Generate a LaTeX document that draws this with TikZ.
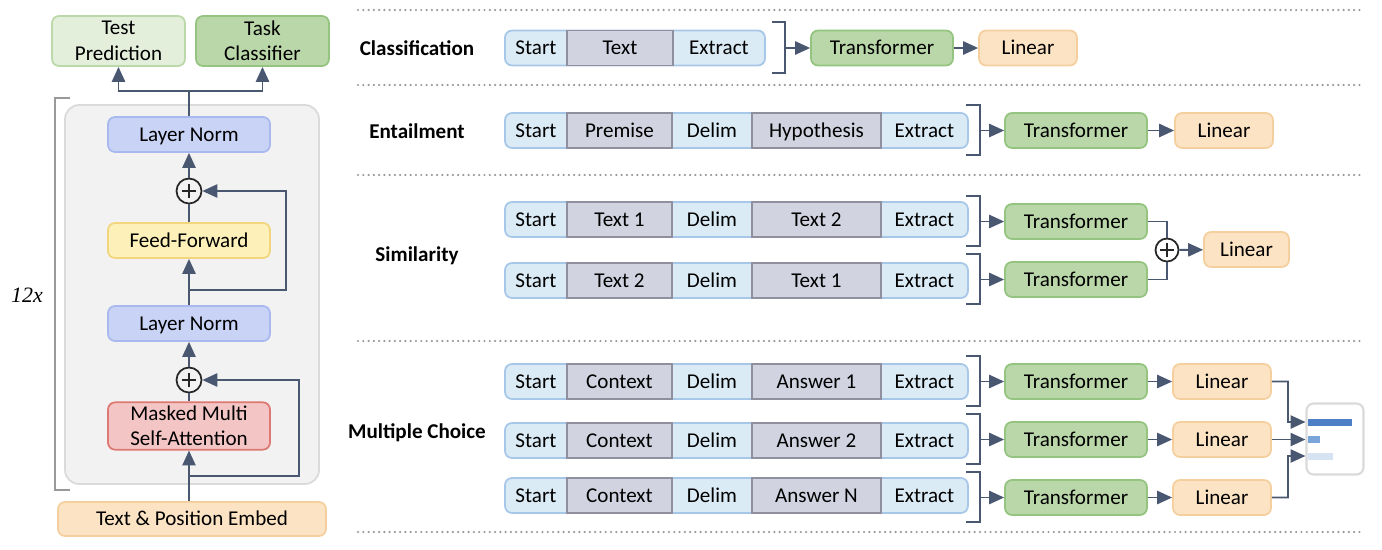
\documentclass[tikz,border=0pt]{standalone}
\usepackage{fontspec}
\setmainfont{Carlito}
\newfontfamily\serifit{Liberation Serif}
\usepackage{tikz}
\usetikzlibrary{arrows.meta, positioning, fit, backgrounds}

\definecolor{arrowcol}{HTML}{4A5770}
\definecolor{normfill}{HTML}{C9D3F6}
\definecolor{normline}{HTML}{A9B9EF}
\definecolor{ffill}{HTML}{FDF1B9}
\definecolor{fline}{HTML}{F3D57E}
\definecolor{attfill}{HTML}{F3C6C5}
\definecolor{attline}{HTML}{DD7873}
\definecolor{embfill}{HTML}{FBE3C4}
\definecolor{embline}{HTML}{F5D09E}
\definecolor{predfill}{HTML}{E3EEDB}
\definecolor{predline}{HTML}{BAD8A8}
\definecolor{trfill}{HTML}{BAD7A9}
\definecolor{trline}{HTML}{94C47F}
\definecolor{seqfill}{HTML}{DAEBF5}
\definecolor{seqline}{HTML}{A7C7E9}
\definecolor{cellfill}{HTML}{D1D3E0}
\definecolor{cellline}{HTML}{8F8F9F}
\definecolor{stackfill}{HTML}{F2F2F2}
\definecolor{stackline}{HTML}{DADADA}
\definecolor{bara}{HTML}{4D7FC4}
\definecolor{barb}{HTML}{7AA5DA}
\definecolor{barc}{HTML}{D6E3F3}

\begin{document}
\begin{tikzpicture}[x=0.02cm, y=-0.02cm, >={Triangle[length=8.5pt, width=7.5pt]},
  every node/.style={font=\fontsize{12}{14}\selectfont, text=black},
  box/.style={draw, rounded corners=4pt, line width=1pt, inner sep=2pt, minimum height=0.7cm,
    text height=9pt, text depth=1.5pt},
  twoline/.style={draw, rounded corners=4pt, line width=1pt, inner sep=2pt, align=center,
    minimum width=2.66cm, minimum height=1cm, font=\fontsize{12}{14.5}\selectfont},
  tr/.style={box, fill=trfill, draw=trline, minimum width=2.84cm},
  lin/.style={box, fill=embfill, draw=embline, minimum width=1.96cm},
  lite/.style={inner sep=0, outer sep=0, minimum height=0.7cm, text height=9pt, text depth=1.5pt},
  dark/.style={lite, fill=cellfill, draw=cellline, line width=1pt},
  seqbar/.style={rounded corners=4pt, fill=seqfill, draw=seqline, line width=1pt, inner sep=0},
  tasklabel/.style={font=\bfseries\fontsize{12}{14}\selectfont},
  stackbox/.style={rounded corners=8pt, fill=stackfill, draw=stackline, line width=1pt,
    minimum width=5.08cm, minimum height=7.58cm},
  plusnode/.style={circle, draw=black!85, line width=1pt, minimum size=0.5cm, inner sep=0,
    path picture={\draw[line width=1pt]
      ([xshift=-0.14cm]path picture bounding box.center) -- ([xshift=0.14cm]path picture bounding box.center)
      ([yshift=-0.14cm]path picture bounding box.center) -- ([yshift=0.14cm]path picture bounding box.center);}},
  conn/.style={draw=arrowcol, line width=1.1pt},
  divider/.style={draw=gray!80, line width=1.4pt, line cap=round, dash pattern=on 0pt off 3pt},
  repline/.style={draw=gray!80, line width=0.8pt}]

\useasboundingbox (0,0) rectangle (1382,549);

% DECODER STACK
\node[stackbox] (stack) at (192,294.5) {};
\node[twoline, fill=predfill, draw=predline] (pred) at (118.5,41) {Test\\Prediction};
\node[twoline, fill=trfill, draw=trline] (cls) at (262.5,41) {Task\\Classifier};
\node[box, fill=normfill, draw=normline, minimum width=3.24cm] (norm1) at (189,134.5) {Layer Norm};
\node[plusnode] (plus1) at (189,191) {};
\node[box, fill=ffill, draw=fline, minimum width=3.24cm] (ff) at (189,240.5) {Feed-Forward};
\node[box, fill=normfill, draw=normline, minimum width=3.24cm] (norm2) at (189,323.5) {Layer Norm};
\node[plusnode] (plus2) at (189,380) {};
\node[twoline, fill=attfill, draw=attline, minimum width=3.24cm, minimum height=0.84cm] (att) at (189,426) {Masked Multi\\Self-Attention};
\node[box, fill=embfill, draw=embline, minimum width=5.36cm, minimum height=0.68cm] (embed) at (192,519) {Text \& Position Embed};
\node[font=\serifit\itshape\fontsize{12.5}{14}\selectfont] (rep) at (27,295) {12x};
\draw[repline] (70,98) -- (55,98) -- (55,490) -- (70,490);

% DECODER ARROWS
\coordinate (split) at (189,91);
\coordinate (res1) at (189,290);
\coordinate (res2) at (189,476);
\draw[conn] (norm1) -- (split);
\draw[conn,->] (split) -| (pred);
\draw[conn,->] (split) -| (cls);
\draw[conn,->] (plus1) -- (norm1);
\draw[conn] (ff) -- (plus1);
\draw[conn,->] (norm2) -- (ff);
\draw[conn,->] (res1) -- (286,290) |- (plus1);
\draw[conn,->] (plus2) -- (norm2);
\draw[conn] (att) -- (plus2);
\draw[conn,->] (embed.north -| att) -- (att);
\draw[conn,->] (res2) -- (299,476) |- (plus2);

% DIVIDERS
\draw[divider] (358,10) -- (1360,10);
\draw[divider] (358,85) -- (1360,85);
\draw[divider] (358,175) -- (1360,175);
\draw[divider] (358,341) -- (1360,341);
\draw[divider] (358,532) -- (1360,532);

% CLASSIFICATION
\node[tasklabel] (lClass) at (417,48) {Classification};
\node[lite, minimum width=1.24cm, anchor=west] (cStart) at (505,48) {Start};
\node[dark, minimum width=2.12cm, right=0pt of cStart] (cText) {Text};
\node[lite, minimum width=1.84cm, right=0pt of cText] (cExtract) {Extract};
\node[tr] (cTr) at (882,48) {Transformer};
\node[lin] (cLin) at (1028,48) {Linear};
\draw[conn] (772,22) -| (785,73) -- (772,73);
\coordinate (cB) at (785,48);
\draw[conn,->] (cB) -- (cTr);
\draw[conn,->] (cTr) -- (cLin);

% ENTAILMENT
\node[tasklabel] (lEnt) at (417,131) {Entailment};
\node[lite, minimum width=1.24cm, anchor=west] (eStart) at (505,130.5) {Start};
\node[dark, minimum width=2.10cm, right=0pt of eStart] (ePrem) {Premise};
\node[lite, minimum width=1.60cm, right=0pt of ePrem] (eDelim) {Delim};
\node[dark, minimum width=2.58cm, right=0pt of eDelim] (eHyp) {Hypothesis};
\node[lite, minimum width=1.74cm, right=0pt of eHyp] (eExtract) {Extract};
\node[tr] (eTr) at (1076,130.5) {Transformer};
\node[lin] (eLin) at (1224,130.5) {Linear};
\draw[conn] (966,105) -| (980,155) -- (966,155);
\coordinate (eB) at (980,130.5);
\draw[conn,->] (eB) -- (eTr);
\draw[conn,->] (eTr) -- (eLin);

% SIMILARITY
\node[tasklabel] (lSim) at (417,256) {Similarity};
\node[lite, minimum width=1.24cm, anchor=west] (sStartA) at (505,219.5) {Start};
\node[dark, minimum width=2.10cm, right=0pt of sStartA] (sOneA) {Text 1};
\node[lite, minimum width=1.60cm, right=0pt of sOneA] (sDelimA) {Delim};
\node[dark, minimum width=2.58cm, right=0pt of sDelimA] (sTwoA) {Text 2};
\node[lite, minimum width=1.74cm, right=0pt of sTwoA] (sExtractA) {Extract};
\node[lite, minimum width=1.24cm, anchor=west] (sStartB) at (505,280.5) {Start};
\node[dark, minimum width=2.10cm, right=0pt of sStartB] (sTwoB) {Text 2};
\node[lite, minimum width=1.60cm, right=0pt of sTwoB] (sDelimB) {Delim};
\node[dark, minimum width=2.58cm, right=0pt of sDelimB] (sOneB) {Text 1};
\node[lite, minimum width=1.74cm, right=0pt of sOneB] (sExtractB) {Extract};
\node[tr] (sTrA) at (1076,221.5) {Transformer};
\node[tr] (sTrB) at (1076,279.5) {Transformer};
\node[plusnode, minimum size=0.46cm] (sPlus) at (1167,250) {};
\node[lin, minimum width=1.70cm] (sLin) at (1246.5,249.5) {Linear};
\draw[conn] (966,196) -| (980,246) -- (966,246);
\draw[conn] (966,254) -| (980,304) -- (966,304);
\coordinate (sBA) at (980,221.5);
\coordinate (sBB) at (980,279.5);
\draw[conn,->] (sBA) -- (sTrA);
\draw[conn,->] (sBB) -- (sTrB);
\draw[conn] (sTrA) -| (sPlus);
\draw[conn] (sTrB) -| (sPlus);
\draw[conn,->] (sPlus) -- (sLin);

% MULTIPLE CHOICE
\node[tasklabel] (lMC) at (417,433) {Multiple Choice};
\node[lite, minimum width=1.24cm, anchor=west] (mStartA) at (505,381.5) {Start};
\node[dark, minimum width=2.10cm, right=0pt of mStartA] (mCtxA) {Context};
\node[lite, minimum width=1.60cm, right=0pt of mCtxA] (mDelimA) {Delim};
\node[dark, minimum width=2.58cm, right=0pt of mDelimA] (mAnsA) {Answer 1};
\node[lite, minimum width=1.74cm, right=0pt of mAnsA] (mExtractA) {Extract};
\node[lite, minimum width=1.24cm, anchor=west] (mStartB) at (505,440.5) {Start};
\node[dark, minimum width=2.10cm, right=0pt of mStartB] (mCtxB) {Context};
\node[lite, minimum width=1.60cm, right=0pt of mCtxB] (mDelimB) {Delim};
\node[dark, minimum width=2.58cm, right=0pt of mDelimB] (mAnsB) {Answer 2};
\node[lite, minimum width=1.74cm, right=0pt of mAnsB] (mExtractB) {Extract};
\node[lite, minimum width=1.24cm, anchor=west] (mStartC) at (505,495.5) {Start};
\node[dark, minimum width=2.10cm, right=0pt of mStartC] (mCtxC) {Context};
\node[lite, minimum width=1.60cm, right=0pt of mCtxC] (mDelimC) {Delim};
\node[dark, minimum width=2.58cm, right=0pt of mDelimC] (mAnsC) {Answer N};
\node[lite, minimum width=1.74cm, right=0pt of mAnsC] (mExtractC) {Extract};
\node[tr] (mTrA) at (1076,381.5) {Transformer};
\node[tr] (mTrB) at (1076,439.5) {Transformer};
\node[tr] (mTrC) at (1076,497.5) {Transformer};
\node[lin] (mLinA) at (1222,381.5) {Linear};
\node[lin] (mLinB) at (1222,439.5) {Linear};
\node[lin] (mLinC) at (1222,497.5) {Linear};
\draw[conn] (966,356) -| (980,406) -- (966,406);
\draw[conn] (966,414) -| (980,464) -- (966,464);
\draw[conn] (966,472) -| (980,522) -- (966,522);
\coordinate (mBA) at (980,381.5);
\coordinate (mBB) at (980,439.5);
\coordinate (mBC) at (980,497.5);
\draw[conn,->] (mBA) -- (mTrA);
\draw[conn,->] (mBB) -- (mTrB);
\draw[conn,->] (mBC) -- (mTrC);
\draw[conn,->] (mTrA) -- (mLinA);
\draw[conn,->] (mTrB) -- (mLinB);
\draw[conn,->] (mTrC) -- (mLinC);

% ANSWER SCORES
\node[draw=stackline, line width=1.2pt, rounded corners=4pt, fill=white, minimum width=1.14cm, minimum height=1.42cm] (probs) at (1335,439) {};
\fill[bara] (1308,418.5) rectangle (1352,425.5);
\fill[barb] (1308,435.5) rectangle (1320,442.5);
\fill[barc] (1308,452.5) rectangle (1333,459.5);
\draw[conn,->] (mLinA) -| (1288,422) -- ([yshift=0.34cm]probs.west);
\draw[conn,->] (mLinB) -- (probs.west |- mLinB);
\draw[conn,->] (mLinC) -| (1288,456) -- ([yshift=-0.34cm]probs.west);

% SEQUENCE BARS
\begin{scope}[on background layer]
\node[seqbar, fit=(cStart)(cExtract)] (cBar) {};
\node[seqbar, fit=(eStart)(eExtract)] (eBar) {};
\node[seqbar, fit=(sStartA)(sExtractA)] (sBarA) {};
\node[seqbar, fit=(sStartB)(sExtractB)] (sBarB) {};
\node[seqbar, fit=(mStartA)(mExtractA)] (mBarA) {};
\node[seqbar, fit=(mStartB)(mExtractB)] (mBarB) {};
\node[seqbar, fit=(mStartC)(mExtractC)] (mBarC) {};
\end{scope}

\end{tikzpicture}
\end{document}
